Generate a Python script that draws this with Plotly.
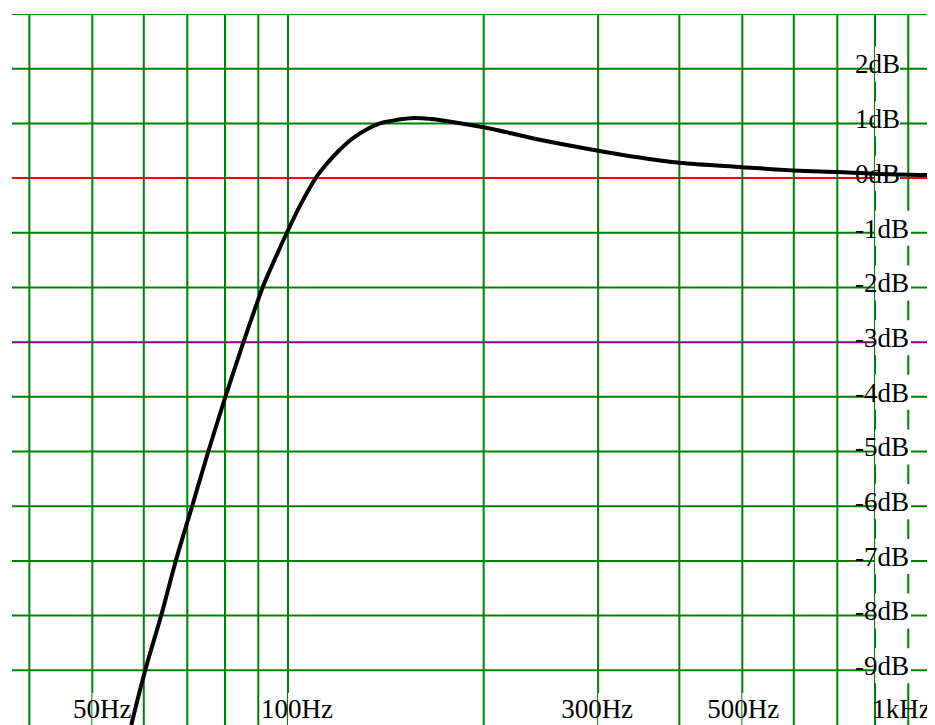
import math
import plotly.graph_objects as go

# ---------------- data ----------------
freq_hz = [57.4, 60.3, 63.8, 67.2, 71.2, 75.4, 80.1, 82.7, 85.4, 88.3, 91.4,
           95.3, 99.6, 104.4, 110.3, 114.5, 119.7, 126.5, 138.5, 145.0, 150.0,
           157.0, 166.0, 176.0, 200.0, 244.0, 300.0, 350.0, 400.0, 500.0,
           600.0, 700.0, 800.0, 1000.0]
level_db = [-10.0, -9.0, -8.0, -7.0, -6.0, -5.0, -4.0, -3.5, -3.0, -2.5, -2.0,
            -1.5, -1.0, -0.5, 0.0, 0.25, 0.5, 0.75, 1.0, 1.05, 1.08,
            1.10, 1.08, 1.04, 0.93, 0.70, 0.50, 0.37, 0.28, 0.20,
            0.14, 0.11, 0.08, 0.05]

grid_freqs = [40, 50, 60, 70, 80, 90, 100, 200, 300, 400, 500, 600, 700, 800, 900]
db_levels = [2, 1, 0, -1, -2, -3, -4, -5, -6, -7, -8, -9]
db_labels = ["2dB", "1dB", "0dB", "-1dB", "-2dB", "-3dB", "-4dB", "-5dB",
             "-6dB", "-7dB", "-8dB", "-9dB"]
hgrid_levels = [3, 2, 1, 0, -1, -2, -3, -4, -5, -6, -7, -8, -9]
x_label_freqs = [50, 100, 300, 500, 1000]
x_labels = ["50Hz", "100Hz", "300Hz", "500Hz", "1kHz"]

# ---------------- layout constants ----------------
BODY = 8                      # default page margin around the plot div
W, H = 935 - BODY, 725 - BODY
ML, MT = 12 - BODY, 14 - BODY
PX_PER_DECADE = 650.0
X_LOG0 = 2.0 - (288 - 12) / PX_PER_DECADE           # left edge (log10 Hz)
X_LOG1 = X_LOG0 + (935 - 12) / PX_PER_DECADE         # right edge
Y0, Y1 = -10.0, 3.0
PX_PER_DB = (725 - 14) / (Y1 - Y0)

GREEN = "#008000"
RED = "#ff0000"
PURPLE = "#800080"
FONT = "Liberation Serif"
FSIZE = 27


def shift_f(f, px):
    """frequency shifted by px pixels along the log axis"""
    return 10 ** (math.log10(f) + px / PX_PER_DECADE)


shapes = []
# horizontal grid lines
for L in hgrid_levels:
    col = RED if L == 0 else (PURPLE if L == -3 else GREEN)
    shapes.append(dict(type="line", xref="paper", yref="y", x0=0, x1=1,
                       y0=L, y1=L, line=dict(color=col, width=2), layer="below"))
# vertical grid lines
for f in grid_freqs:
    shapes.append(dict(type="line", xref="x", yref="y", x0=f, x1=f,
                       y0=Y0, y1=Y1, line=dict(color=GREEN, width=2), layer="below"))
# white boxes behind dB labels
for L, t in zip(db_levels, db_labels):
    right = 36 if t.startswith("-") else 25
    shapes.append(dict(type="rect", xref="x", yref="y", xsizemode="pixel",
                       ysizemode="pixel", xanchor=800, yanchor=L,
                       x0=-20, x1=right, y0=-13, y1=22,
                       fillcolor="white", line=dict(width=0), layer="below"))
# white boxes behind frequency labels
x_label_shift = [10, 9, -1, 1, -36.5]
x_label_half = [30, 37, 38, 38, 30]
for f, s, hw in zip(x_label_freqs, x_label_shift, x_label_half):
    shapes.append(dict(type="rect", xref="x", yref="y", xsizemode="pixel",
                       ysizemode="pixel", xanchor=f, yanchor=Y0,
                       x0=s - hw, x1=s + hw, y0=-2, y1=32,
                       fillcolor="white", line=dict(width=0), layer="below"))

fig = go.Figure()

# dB labels
fig.add_trace(go.Scatter(
    x=[shift_f(800, -20)] * len(db_levels),
    y=[L + 2 / PX_PER_DB for L in db_levels],
    text=db_labels, mode="text", textposition="middle right",
    textfont=dict(family=FONT, size=FSIZE, color="black"),
    cliponaxis=False, hoverinfo="skip", showlegend=False))

# frequency labels
fig.add_trace(go.Scatter(
    x=[shift_f(f, s) for f, s in zip(x_label_freqs, x_label_shift)],
    y=[Y0 + 14 / PX_PER_DB] * len(x_labels),
    text=x_labels, mode="text", textposition="middle center",
    textfont=dict(family=FONT, size=FSIZE, color="black"),
    cliponaxis=False, hoverinfo="skip", showlegend=False))

# response curve
fig.add_trace(go.Scatter(
    x=freq_hz, y=level_db, mode="lines",
    line=dict(color="black", width=4, shape="spline", smoothing=1.0),
    hoverinfo="skip", showlegend=False))

fig.update_layout(
    width=W, height=H,
    margin=dict(l=ML, r=0, t=MT, b=0, pad=0),
    paper_bgcolor="white", plot_bgcolor="white",
    shapes=shapes,
    xaxis=dict(type="log", range=[X_LOG0, X_LOG1], showgrid=False,
               zeroline=False, showticklabels=False, ticks="", showline=False),
    yaxis=dict(range=[Y0, Y1], showgrid=False, zeroline=False,
               showticklabels=False, ticks="", showline=False),
)

fig.write_html("out.html")
